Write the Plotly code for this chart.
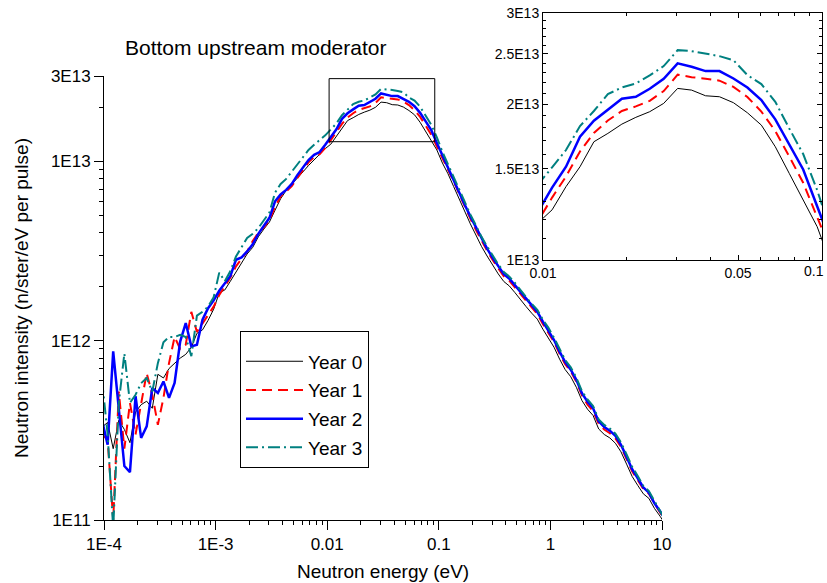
import plotly.graph_objects as go

# Energy grid (eV): mantissas per decade, plus one point each side of the plotted range
MANTISSA = [1.078, 1.209, 1.357, 1.522, 1.708, 1.917, 2.151, 2.413, 2.708, 3.038,
            3.409, 3.825, 4.291, 4.815, 5.402, 6.062, 6.801, 7.631, 8.562, 9.607]
DECADES = [-4, -3, -2, -1, 0]
E_FIRST = 9.607e-5
E_LAST = 10.78
energy = [E_FIRST] + [m * 10 ** d for d in DECADES for m in MANTISSA] + [E_LAST]

# Intensities in units of 1E12 n/ster/eV per pulse
year0 = [0.33, 0.35, 0.25, 0.36, 0.32, 0.27, 0.40, 0.44, 0.46, 0.42, 0.65, 0.62, 0.70, 0.75, 0.80, 0.84, 0.92, 1.10, 1.15, 1.30, 1.50,
         1.85, 1.92, 2.15, 2.42, 2.72, 3.05, 3.32, 3.8, 4.2, 4.6, 5.35, 6.2, 6.9, 7.45, 8.0, 8.75, 9.5, 10.2, 10.9, 11.8, 12.5,
         13.86, 15.14, 16.92, 17.56, 18.3, 18.86, 19.34, 20.07, 21.45, 21.29, 20.76, 20.67, 20.13, 19.25, 18.22, 16.55, 14.7, 13.06, 11.6,
         9.8, 8.54, 7.26, 6.17, 5.22, 4.49, 3.89, 3.36, 2.97, 2.64, 2.36, 2.14, 2.02, 1.855, 1.69, 1.55, 1.425, 1.32, 1.16, 1.04,
         0.92, 0.79, 0.69, 0.63, 0.55, 0.464, 0.415, 0.383, 0.322, 0.30, 0.287, 0.268, 0.24, 0.205, 0.175, 0.156, 0.14, 0.132, 0.116, 0.105, 0.094]
year1 = [0.30, 0.28, 0.10, 0.52, 0.25, 0.45, 0.30, 0.45, 0.66, 0.50, 0.34, 0.48, 0.75, 1.05, 0.90, 0.95, 1.45, 1.12, 1.25, 1.40, 1.55,
         1.8, 2.0, 2.25, 2.6, 2.85, 3.15, 3.6, 4.0, 4.3, 4.7, 5.6, 6.4, 6.8, 7.3, 8.1, 8.9, 9.9, 10.6, 11.0, 11.9, 13.2,
         14.5, 16.2, 17.6, 18.6, 19.4, 19.8, 20.3, 21.2, 22.8, 22.55, 22.4, 22.2, 21.6, 20.65, 19.35, 17.75, 15.85, 14.1, 12.1,
         10.4, 9.14, 7.77, 6.6, 5.59, 4.8, 4.16, 3.6, 3.18, 2.82, 2.53, 2.29, 2.16, 1.98, 1.81, 1.66, 1.52, 1.41, 1.24, 1.11,
         0.985, 0.845, 0.74, 0.675, 0.59, 0.497, 0.44, 0.405, 0.345, 0.32, 0.305, 0.285, 0.256, 0.219, 0.187, 0.167, 0.149, 0.14, 0.123, 0.11, 0.098]
year2 = [0.36, 0.263, 0.872, 0.413, 0.20, 0.185, 0.49, 0.287, 0.333, 0.545, 0.511, 0.593, 0.48, 0.581, 0.99, 1.255, 0.93, 0.95, 1.31, 1.52, 1.68,
         1.9, 2.08, 2.3, 2.83, 2.92, 3.15, 3.45, 3.95, 4.4, 4.85, 6.0, 6.55, 6.95, 7.5, 8.4, 9.2, 10.2, 10.9, 11.3, 12.4, 13.8,
         15.14, 17.3, 18.58, 19.54, 20.49, 20.67, 21.42, 22.39, 23.98, 23.62, 23.17, 23.17, 22.42, 21.54, 20.36, 18.69, 16.75, 14.96, 12.7,
         10.8, 9.39, 7.99, 6.79, 5.74, 4.94, 4.28, 3.70, 3.27, 2.90, 2.60, 2.35, 2.22, 2.04, 1.86, 1.71, 1.57, 1.45, 1.28, 1.14,
         1.01, 0.87, 0.76, 0.69, 0.605, 0.51, 0.457, 0.42, 0.355, 0.33, 0.315, 0.295, 0.263, 0.225, 0.192, 0.171, 0.152, 0.142, 0.124, 0.112, 0.10]
year3 = [0.60, 0.30, 0.09, 0.45, 0.85, 0.45, 0.50, 0.58, 0.62, 0.52, 0.75, 0.98, 1.05, 1.05, 1.08, 1.05, 0.82, 1.38, 1.45, 1.55, 1.75,
         2.4, 2.15, 2.45, 2.95, 3.3, 3.75, 3.95, 4.25, 4.7, 5.2, 6.7, 7.5, 8.0, 8.75, 9.6, 10.5, 11.6, 12.4, 13.2, 14.0, 15.1,
         16.31, 18.14, 19.4, 20.91, 21.54, 21.93, 22.73, 23.69, 25.43, 25.32, 25.06, 24.76, 24.32, 22.76, 21.87, 20.21, 17.95, 16.02, 13.65,
         11.3, 9.65, 8.2, 6.97, 5.9, 5.07, 4.4, 3.8, 3.36, 2.98, 2.67, 2.42, 2.28, 2.1, 1.91, 1.75, 1.61, 1.49, 1.31, 1.18,
         1.04, 0.893, 0.78, 0.712, 0.622, 0.524, 0.47, 0.433, 0.364, 0.339, 0.324, 0.303, 0.271, 0.232, 0.198, 0.176, 0.155, 0.145, 0.127, 0.113, 0.099]
UNIT = 1e12

series_names = ["Year 0", "Year 1", "Year 2", "Year 3"]
series_vals = [year0, year1, year2, year3]
styles = [
    dict(color="#000000", width=1, dash="solid"),
    dict(color="#FF0000", width=2, dash="10px,6px"),
    dict(color="#0000FF", width=2.5, dash="solid"),
    dict(color="#008080", width=2, dash="12px,4px,2px,4px"),
]

main_xticks = [1e-4, 1e-3, 1e-2, 1e-1, 1, 10]
main_xtext = ["1E-4", "1E-3", "0.01", "0.1", "1", "10"]
main_yticks = [1e11, 1e12, 1e13, 3e13]
main_ytext = ["1E11", "1E12", "1E13", "3E13"]
inset_xticks = [0.01, 0.05, 0.1]
inset_xtext = ["0.01", "0.05", ""]
inset_edge_label = "0.1"
inset_yticks = [1e13, 1.5e13, 2e13, 2.5e13, 3e13]
inset_ytext = ["1E13", "1.5E13", "2E13", "2.5E13", "3E13"]

FONT = "Liberation Sans, Arial, Helvetica, sans-serif"

fig = go.Figure()
for name, vals, st in zip(series_names, series_vals, styles):
    y = [v * UNIT for v in vals]
    fig.add_trace(go.Scatter(x=energy, y=y, mode="lines", name=name, line=st,
                             xaxis="x", yaxis="y", legendgroup=name, showlegend=True))
for name, vals, st in zip(series_names, series_vals, styles):
    y = [v * UNIT for v in vals]
    fig.add_trace(go.Scatter(x=energy, y=y, mode="lines", name=name, line=st,
                             xaxis="x2", yaxis="y2", legendgroup=name, showlegend=False))

minor_main_x = [m * 10 ** d for d in range(-4, 1) for m in range(2, 10)]
minor_main_y = [m * 10 ** d for d in range(11, 13) for m in range(2, 10)] + [2e13]
minor_in_x = [0.02, 0.03, 0.04, 0.06, 0.07, 0.08, 0.09]
minor_in_y = [k * 1e12 for k in range(11, 30) if k not in (15, 20, 25)]

W, H = 827, 583
axcommon = dict(showline=True, linecolor="black", linewidth=1, showgrid=False, zeroline=False,
                tickcolor="black", tickwidth=1, automargin=False)
fig.update_layout(
    width=W, height=H, margin=dict(l=0, r=0, t=0, b=0),
    paper_bgcolor="white", plot_bgcolor="white",
    font=dict(family=FONT, color="black"),
    xaxis=dict(type="log", range=[-4, 1], domain=[104 / W, 662 / W], anchor="y",
               ticks="outside", ticklen=9, tickmode="array", tickvals=main_xticks, ticktext=main_xtext,
               tickfont=dict(size=17),
               minor=dict(ticks="outside", ticklen=4, tickmode="array", tickvals=minor_main_x, tickcolor="black"),
               **axcommon),
    yaxis=dict(type="log", range=[11, 13.4771], domain=[1 - 520 / H, 1 - 76 / H], anchor="x",
               ticks="outside", ticklen=9, tickmode="array", tickvals=main_yticks, ticktext=main_ytext,
               tickfont=dict(size=17),
               minor=dict(ticks="outside", ticklen=4, tickmode="array", tickvals=minor_main_y, tickcolor="black"),
               **axcommon),
    xaxis2=dict(type="log", range=[-2, -1], domain=[543 / W, 822 / W], anchor="y2", mirror="allticks",
                ticks="inside", ticklen=5, tickmode="array", tickvals=inset_xticks, ticktext=inset_xtext,
                tickfont=dict(size=14),
                minor=dict(ticks="inside", ticklen=3, tickmode="array", tickvals=minor_in_x, tickcolor="black"),
                **axcommon),
    yaxis2=dict(type="log", range=[13, 13.4771], domain=[1 - 260 / H, 1 - 13 / H], anchor="x2", mirror="allticks",
                ticks="inside", ticklen=5, tickmode="array", tickvals=inset_yticks, ticktext=inset_ytext,
                tickfont=dict(size=14),
                minor=dict(ticks="inside", ticklen=3, tickmode="array", tickvals=minor_in_y, tickcolor="black"),
                **axcommon),
    legend=dict(x=240 / W, y=1 - 331 / H, xanchor="left", yanchor="top",
                bordercolor="black", borderwidth=1, bgcolor="white",
                title=dict(text=" ", font=dict(size=8)),
                font=dict(size=19, family=FONT), tracegroupgap=1, itemwidth=57),
    showlegend=True,
)

fig.add_shape(type="rect", xref="x", yref="y", x0=0.0104, x1=0.092, y0=1.29e13, y1=2.9e13,
              line=dict(color="black", width=1), fillcolor="rgba(0,0,0,0)")

# inset's last x label, kept just inside the page edge
fig.add_annotation(text=inset_edge_label, xref="paper", yref="paper", x=826 / W, y=1 - 260 / H,
                   xanchor="right", yanchor="top", yshift=-1, showarrow=False,
                   font=dict(size=14, family=FONT))

fig.add_annotation(text="Bottom upstream moderator", xref="paper", yref="paper",
                   x=123 / W, y=1 - 48 / H, xanchor="left", yanchor="middle", showarrow=False,
                   font=dict(size=21, family=FONT))
fig.add_annotation(text="Neutron energy (eV)", xref="paper", yref="paper",
                   x=383 / W, y=1 - 571 / H, xanchor="center", yanchor="middle", showarrow=False,
                   font=dict(size=19, family=FONT))
fig.add_annotation(text="Neutron intensity (n/ster/eV per pulse)", xref="paper", yref="paper",
                   x=21 / W, y=1 - 298 / H, xanchor="center", yanchor="middle", showarrow=False,
                   textangle=-90, font=dict(size=19, family=FONT))

fig.write_html("out.html")
